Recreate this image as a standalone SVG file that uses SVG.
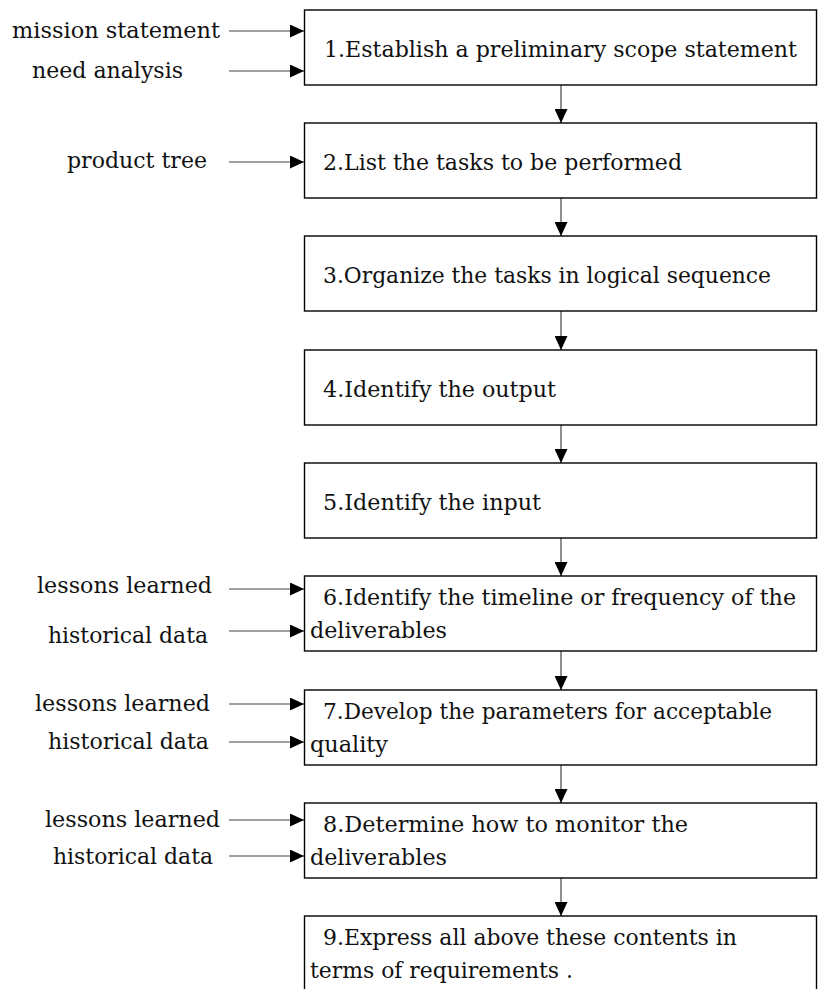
<svg xmlns="http://www.w3.org/2000/svg" width="818" height="989" viewBox="0 0 818 989">
<style>
  .box { fill: #ffffff; stroke: #000000; stroke-width: 1.4; }
  .t { font-family: "DejaVu Serif", "Liberation Serif", serif; font-size: 22.5px; fill: #111111; }
  .c { stroke: #444444; stroke-width: 1.2; fill: none; marker-end: url(#ah); }
</style>
<defs>
  <marker id="ah" viewBox="0 0 14 13" refX="14" refY="6.5" markerWidth="14" markerHeight="13" markerUnits="userSpaceOnUse" orient="auto">
    <path d="M0,0 L14,6.5 L0,13 z" fill="#000000"/>
  </marker>
</defs>
<rect width="818" height="989" fill="#ffffff"/>

<g id="connectors">
  <line class="c" x1="561" y1="85" x2="561" y2="123"/>
  <line class="c" x1="561" y1="198" x2="561" y2="236"/>
  <line class="c" x1="561" y1="311" x2="561" y2="350"/>
  <line class="c" x1="561" y1="425" x2="561" y2="463"/>
  <line class="c" x1="561" y1="538" x2="561" y2="576"/>
  <line class="c" x1="561" y1="651" x2="561" y2="690"/>
  <line class="c" x1="561" y1="765" x2="561" y2="803"/>
  <line class="c" x1="561" y1="878" x2="561" y2="916"/>
  <line class="c" x1="229" y1="31" x2="304" y2="31"/>
  <line class="c" x1="229" y1="71" x2="304" y2="71"/>
  <line class="c" x1="229" y1="162" x2="304" y2="162"/>
  <line class="c" x1="229" y1="589" x2="304" y2="589"/>
  <line class="c" x1="229" y1="631" x2="304" y2="631"/>
  <line class="c" x1="229" y1="704" x2="304" y2="704"/>
  <line class="c" x1="229" y1="742" x2="304" y2="742"/>
  <line class="c" x1="229" y1="820" x2="304" y2="820"/>
  <line class="c" x1="229" y1="856" x2="304" y2="856"/>
</g>

<g id="inputs">
  <text class="t" x="12" y="38" textLength="208" lengthAdjust="spacingAndGlyphs">mission statement</text>
  <text class="t" x="32" y="78" textLength="151" lengthAdjust="spacingAndGlyphs">need analysis</text>
  <text class="t" x="67" y="168" textLength="140" lengthAdjust="spacingAndGlyphs">product tree</text>
  <text class="t" x="37" y="593" textLength="175" lengthAdjust="spacingAndGlyphs">lessons learned</text>
  <text class="t" x="48" y="643" textLength="160" lengthAdjust="spacingAndGlyphs">historical data</text>
  <text class="t" x="35" y="711" textLength="175" lengthAdjust="spacingAndGlyphs">lessons learned</text>
  <text class="t" x="48" y="749" textLength="161" lengthAdjust="spacingAndGlyphs">historical data</text>
  <text class="t" x="45" y="827" textLength="175" lengthAdjust="spacingAndGlyphs">lessons learned</text>
  <text class="t" x="53" y="864" textLength="160" lengthAdjust="spacingAndGlyphs">historical data</text>
</g>

<g id="step1">
  <rect class="box" x="304.5" y="10" width="512" height="75"/>
  <text class="t" x="324" y="57" textLength="473" lengthAdjust="spacingAndGlyphs">1.Establish a preliminary scope statement</text>
</g>
<g id="step2">
  <rect class="box" x="304.5" y="123" width="512" height="75"/>
  <text class="t" x="323" y="170" textLength="359" lengthAdjust="spacingAndGlyphs">2.List the tasks to be performed</text>
</g>
<g id="step3">
  <rect class="box" x="304.5" y="236" width="512" height="75"/>
  <text class="t" x="323" y="283" textLength="448" lengthAdjust="spacingAndGlyphs">3.Organize the tasks in logical sequence</text>
</g>
<g id="step4">
  <rect class="box" x="304.5" y="350" width="512" height="75"/>
  <text class="t" x="323" y="397" textLength="233" lengthAdjust="spacingAndGlyphs">4.Identify the output</text>
</g>
<g id="step5">
  <rect class="box" x="304.5" y="463" width="512" height="75"/>
  <text class="t" x="323" y="510" textLength="218" lengthAdjust="spacingAndGlyphs">5.Identify the input</text>
</g>
<g id="step6">
  <rect class="box" x="304.5" y="576" width="512" height="75"/>
  <text class="t" x="323" y="605" textLength="473" lengthAdjust="spacingAndGlyphs">6.Identify the timeline or frequency of the</text>
  <text class="t" x="310" y="638" textLength="137" lengthAdjust="spacingAndGlyphs">deliverables</text>
</g>
<g id="step7">
  <rect class="box" x="304.5" y="690" width="512" height="75"/>
  <text class="t" x="323" y="719" textLength="449" lengthAdjust="spacingAndGlyphs">7.Develop the parameters for acceptable</text>
  <text class="t" x="310" y="752" textLength="78" lengthAdjust="spacingAndGlyphs">quality</text>
</g>
<g id="step8">
  <rect class="box" x="304.5" y="803" width="512" height="75"/>
  <text class="t" x="323" y="832" textLength="365" lengthAdjust="spacingAndGlyphs">8.Determine how to monitor the</text>
  <text class="t" x="310" y="865" textLength="137" lengthAdjust="spacingAndGlyphs">deliverables</text>
</g>
<g id="step9">
  <rect class="box" x="304.5" y="916" width="512" height="80"/>
  <text class="t" x="323" y="945" textLength="414" lengthAdjust="spacingAndGlyphs">9.Express all above these contents in</text>
  <text class="t" x="310" y="978" textLength="263" lengthAdjust="spacingAndGlyphs">terms of requirements .</text>
</g>
</svg>
